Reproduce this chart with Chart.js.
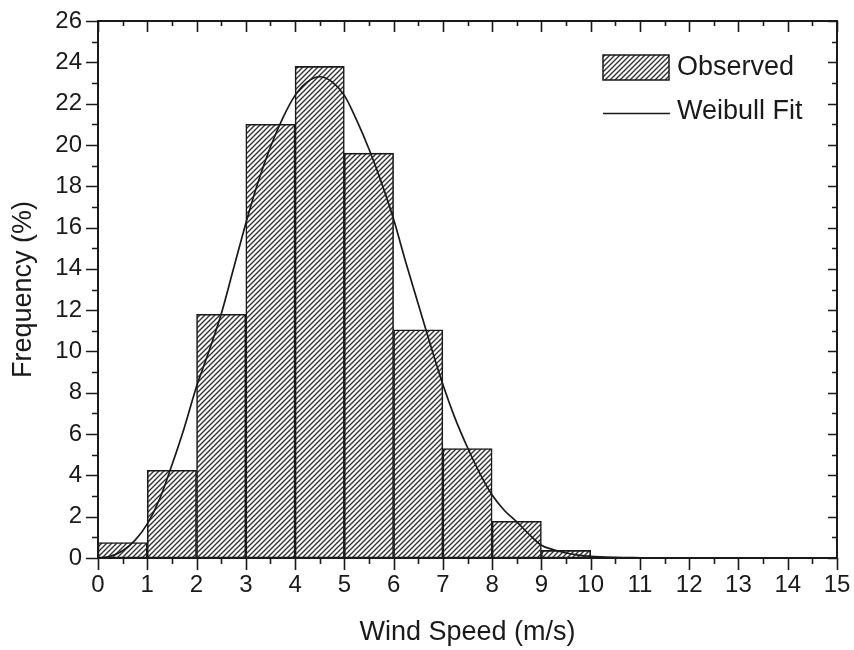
<!DOCTYPE html>
<html>
<head>
<meta charset="utf-8">
<script src="https://cdn.jsdelivr.net/npm/chart.js@4.4.1/dist/chart.umd.min.js"></script>
<style>
  html, body { margin: 0; padding: 0; background: #fff; }
  #wrap { width: 854px; height: 650px; }
</style>
</head>
<body>
<div id="wrap"><canvas id="windChart" width="854" height="650"></canvas></div>
<script>
// histogram bins (left edge, m/s) and observed frequency (%)
const binStarts = [0, 1, 2, 3, 4, 5, 6, 7, 8, 9, 10];
const observed = [0.75, 4.25, 11.8, 21.0, 23.8, 19.6, 11.05, 5.3, 1.78, 0.37, 0.05];

// Weibull fit curve
const fitSpeeds = [0, 0.25, 0.5, 0.75, 1, 1.25, 1.5, 1.75, 2, 2.25, 2.5, 2.75, 3, 3.25, 3.5, 3.75,
  4, 4.25, 4.5, 4.75, 5, 5.25, 5.5, 5.75, 6, 6.25, 6.5, 6.75, 7, 7.25, 7.5, 7.75,
  8, 8.25, 8.5, 8.75, 9, 9.25, 9.5, 9.75, 10, 10.5, 11];
const fitFreq = [0, 0.08, 0.35, 0.85, 1.65, 2.85, 4.5, 6.3, 8.3, 10.0, 11.8, 14.0, 16.2, 18.2, 19.9, 21.3,
  22.4, 23.05, 23.3, 23.05, 22.4, 21.2, 19.8, 18.2, 16.4, 14.3, 12.3, 10.3, 8.4, 6.75, 5.35, 4.1,
  3.05, 2.3, 1.75, 1.15, 0.62, 0.4, 0.24, 0.14, 0.08, 0.03, 0.01];

const xTickLabels = ["0", "1", "2", "3", "4", "5", "6", "7", "8", "9", "10", "11", "12", "13", "14", "15"];
const yTickLabels = ["0", "", "2", "", "4", "", "6", "", "8", "", "10", "", "12", "", "14", "", "16", "", "18", "", "20", "", "22", "", "24", "", "26"];

const FONT = "'Liberation Sans', Arial, sans-serif";
const INK = "#1a1a1a";

// diagonal hatch fill like the original figure
function makeHatch() {
  const s = 5;
  const tile = document.createElement("canvas");
  tile.width = s;
  tile.height = s;
  const t = tile.getContext("2d");
  t.fillStyle = "#ffffff";
  t.fillRect(0, 0, s, s);
  t.strokeStyle = "#333333";
  t.lineWidth = 1.4;
  t.beginPath();
  t.moveTo(-1, s + 1);
  t.lineTo(s + 1, -1);
  t.moveTo(-1, 1);
  t.lineTo(1, -1);
  t.moveTo(s - 1, s + 1);
  t.lineTo(s + 1, s - 1);
  t.stroke();
  return t.createPattern(tile, "repeat");
}
const hatch = makeHatch();

// box frame with major / minor ticks on all four sides
const frameTicks = {
  id: "frameTicks",
  afterDatasetsDraw(chart) {
    const { ctx, chartArea: a, scales } = chart;
    const xs = scales.x, ys = scales.y;
    ctx.save();
    ctx.strokeStyle = INK;
    ctx.lineWidth = 2;
    ctx.strokeRect(a.left, a.top, a.right - a.left, a.bottom - a.top);
    ctx.lineWidth = 1.6;
    ctx.beginPath();
    for (let v = 0; v <= 15; v += 0.5) {
      const px = Math.round(xs.getPixelForValue(v)) + 0.5;
      const major = v % 1 === 0;
      ctx.moveTo(px, a.bottom);
      ctx.lineTo(px, a.bottom + (major ? 12 : 6));
      ctx.moveTo(px, a.top);
      ctx.lineTo(px, a.top + (major ? 11 : 5));
    }
    for (let v = 0; v <= 26; v += 1) {
      const py = Math.round(ys.getPixelForValue(v)) + 0.5;
      const major = v % 2 === 0;
      ctx.moveTo(a.left, py);
      ctx.lineTo(a.left - (major ? 12 : 6), py);
      ctx.moveTo(a.right, py);
      ctx.lineTo(a.right - (major ? 9 : 5), py);
    }
    ctx.stroke();
    ctx.restore();
  },
};

// legend in the upper right of the plot
const insideLegend = {
  id: "insideLegend",
  afterDraw(chart) {
    const { ctx } = chart;
    ctx.save();
    ctx.fillStyle = hatch;
    ctx.fillRect(603, 55, 66, 25);
    ctx.strokeStyle = INK;
    ctx.lineWidth = 1.5;
    ctx.strokeRect(603, 55, 66, 25);
    ctx.beginPath();
    ctx.lineWidth = 1.6;
    ctx.moveTo(603, 113.5);
    ctx.lineTo(670, 113.5);
    ctx.stroke();
    ctx.fillStyle = INK;
    ctx.font = "27px " + FONT;
    ctx.textBaseline = "middle";
    ctx.fillText("Observed", 677, 68);
    ctx.fillText("Weibull Fit", 677, 112);
    ctx.restore();
  },
};

// keep the plot box where the original has it
function fixX(scale) {
  scale.height = 92;
  scale.paddingLeft = 0;
  scale.paddingRight = 0;
}
function fixY(scale) {
  scale.width = 98;
  scale.paddingTop = 0;
  scale.paddingBottom = 0;
}

const ctx = document.getElementById("windChart").getContext("2d");

new Chart(ctx, {
  type: "bar",
  data: {
    datasets: [
      {
        label: "Weibull Fit",
        type: "line",
        data: fitSpeeds.map((s, i) => ({ x: s, y: fitFreq[i] })),
        borderColor: INK,
        borderWidth: 1.7,
        pointRadius: 0,
        fill: false,
        cubicInterpolationMode: "monotone",
        order: 0,
      },
      {
        label: "Observed",
        data: binStarts.map((s, i) => ({ x: s + 0.5, y: observed[i] })),
        backgroundColor: hatch,
        borderColor: INK,
        borderWidth: 1.6,
        borderSkipped: false,
        barPercentage: 1,
        categoryPercentage: 1,
        order: 1,
      },
    ],
  },
  options: {
    responsive: false,
    animation: false,
    layout: { padding: { top: 21, right: 17, left: 0, bottom: 0 } },
    plugins: {
      legend: { display: false },
      tooltip: { enabled: false },
    },
    scales: {
      x: {
        type: "linear",
        min: 0,
        max: 15,
        offset: false,
        grid: { display: false, drawTicks: false },
        border: { display: false },
        afterFit: fixX,
        ticks: {
          stepSize: 1,
          padding: 13,
          color: INK,
          font: { family: FONT, size: 24 },
          maxRotation: 0,
          autoSkip: false,
          callback: (v) => xTickLabels[v] ?? "",
        },
        title: {
          display: true,
          text: "Wind Speed (m/s)",
          color: INK,
          font: { family: FONT, size: 27 },
          padding: { top: 0, bottom: 1 },
        },
      },
      y: {
        min: 0,
        max: 26,
        grid: { display: false, drawTicks: false },
        border: { display: false },
        afterFit: fixY,
        ticks: {
          stepSize: 1,
          padding: 16,
          color: INK,
          font: { family: FONT, size: 24 },
          autoSkip: false,
          callback: (v) => yTickLabels[v] ?? "",
        },
        title: {
          display: true,
          text: "Frequency (%)",
          color: INK,
          font: { family: FONT, size: 27 },
          padding: { top: 7, bottom: 0 },
        },
      },
    },
  },
  plugins: [frameTicks, insideLegend],
});
</script>
</body>
</html>
